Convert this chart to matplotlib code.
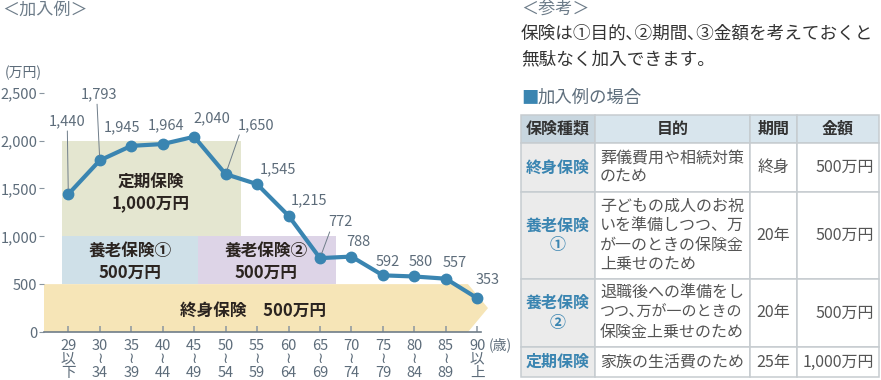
import matplotlib
matplotlib.use('Agg')
import matplotlib.pyplot as plt
from matplotlib.patches import Rectangle, Polygon

plt.rcParams['font.family'] = ['Noto Sans CJK JP', 'DejaVu Sans']

# ---- chart data ----
age_labels = ['29\n以\n下', '30\n≀\n34', '35\n≀\n39', '40\n≀\n44', '45\n≀\n49',
              '50\n≀\n54', '55\n≀\n59', '60\n≀\n64', '65\n≀\n69', '70\n≀\n74',
              '75\n≀\n79', '80\n≀\n84', '85\n≀\n89', '90\n以\n上']
amounts = [1440, 1793, 1945, 1964, 2040, 1650, 1545, 1215, 772, 788, 592, 580, 557, 353]
y_ticks = [0, 500, 1000, 1500, 2000, 2500]

# coverage (万円)
whole_life = 500
endowment = 500
term_life = 1000

# ---- table data ----
table_header = ['保険種類', '目的', '期間', '金額']
insurance_types = ['終身保険', '養老保険\n①', '養老保険\n②', '定期保険']
purposes = ['葬儀費用や相続対策\nのため',
            '子どもの成人のお祝\nいを準備しつつ、万\nが一のときの保険金\n上乗せのため',
            '退職後への準備をし\nつつ､万が一のときの\n保険金上乗せのため',
            '家族の生活費のため']
periods = ['終身', '20年', '20年', '25年']
coverages = ['500万円', '500万円', '500万円', '1,000万円']

W, H = 881, 380
GREY = '#5d6c7a'
BLUE = '#3a85b1'
DARK = '#2b2420'

fig = plt.figure(figsize=(W / 100, H / 100), dpi=100)

# chart axes placed in pixel terms
x_left, x_right = 44, 500
y_zero, y_top = 332, 60
step = 31.46          # px per age group
per_unit = 0.0957     # px per 万円
ax = fig.add_axes([x_left / W, (H - y_zero) / H, (x_right - x_left) / W, (y_zero - y_top) / H])
ax.set_xlim((x_left - 68.3) / step, (x_right - 68.3) / step)
ax.set_ylim(0, (y_zero - y_top) / per_unit)
ax.patch.set_visible(False)

# bands
xa = (44 - 68.3) / step
xb = (61.5 - 68.3) / step
xc = (198 - 68.3) / step
xd = (241 - 68.3) / step
xe = (336 - 68.3) / step
xf = (468 - 68.3) / step
xg = (488 - 68.3) / step
ax.add_patch(Polygon([(xa, 0), (xa, whole_life), (xf, whole_life), (xg, whole_life / 2), (xf, 0)],
                     closed=True, facecolor='#f6e5b7', edgecolor='none', zorder=0.5))
ax.add_patch(Rectangle((xb, whole_life), xc - xb, endowment, facecolor='#cfe0e8', edgecolor='none', zorder=0.5))
ax.add_patch(Rectangle((xc, whole_life), xe - xc, endowment, facecolor='#ddd4e7', edgecolor='none', zorder=0.5))
ax.add_patch(Rectangle((xb, whole_life + endowment), xd - xb, term_life,
                       facecolor='#e4e6d0', edgecolor='none', zorder=0.5))

band_kw = dict(ha='center', va='center', fontsize=12, fontweight='bold', color=DARK, zorder=1)
ax.text((151 - 68.3) / step, (y_zero - 192) / per_unit, '定期保険\n1,000万円', linespacing=1.25, **band_kw)
ax.text((130 - 68.3) / step, (y_zero - 262) / per_unit, '養老保険①\n500万円', linespacing=1.25, **band_kw)
ax.text((266 - 68.3) / step, (y_zero - 262) / per_unit, '養老保険②\n500万円', linespacing=1.25, **band_kw)
ax.text((253 - 68.3) / step, whole_life * 0.44, '終身保険\u3000500万円', **band_kw)

# line
xs = list(range(len(amounts)))
ax.plot(xs, amounts, color=BLUE, lw=3, marker='o', ms=7.5, zorder=3, solid_capstyle='round')

# value labels (offsets in pixels, +y up)
label_offsets = [(-1, 73), (-1, 66), (-9, 19), (3, 19), (18, 18), (30, 49), (21, 15),
                 (20, 15), (20, 36), (7, 15), (5, 13), (6, 14), (9, 16), (10, 18)]
leaders = {0: (0.5, 0), 1: (0.45, 0), 5: (0.08, 0), 8: (0.12, 0)}
for i, v in enumerate(amounts):
    kw = {}
    if i in leaders:
        kw['arrowprops'] = dict(arrowstyle='-', color='#6f7d89', lw=0.7,
                                shrinkA=0, shrinkB=3.5, relpos=leaders[i])
    ax.annotate(f'{v:,}', (i, v), xytext=label_offsets[i], textcoords='offset pixels',
                ha='center', va='center', fontsize=10.5, color=GREY, zorder=4, **kw)

# axes styling
for s in ['left', 'right', 'top']:
    ax.spines[s].set_visible(False)
ax.spines['bottom'].set_color('#6f7d89')
ax.spines['bottom'].set_linewidth(1.2)
ax.spines['bottom'].set_bounds(xa, (481 - 68.3) / step)
ax.spines['bottom'].set_zorder(2)
ax.set_yticks(y_ticks)
ax.set_yticklabels([f'{v:,}' for v in y_ticks])
ax.tick_params(axis='y', length=3.6, width=0.8, color='#8a96a0', pad=1, labelsize=10.5, labelcolor=GREY)
ax.set_xticks(xs)
ax.set_xticklabels(age_labels, linespacing=0.95)
ax.tick_params(axis='x', direction='in', length=4.3, width=1.1, color='#8a96a0', pad=5,
               labelsize=10.5, labelcolor=GREY)

# ---- overlay for titles and table (pixel coords) ----
ov = fig.add_axes([0, 0, 1, 1])
ov.set_xlim(0, W)
ov.set_ylim(H, 0)
ov.axis('off')

ov.text(2, 10, '＜加入例＞', fontsize=12.3, color='#6d7c89', ha='left', va='center')
ov.text(23, 73, '(万円)', fontsize=10, color=GREY, ha='center', va='center')
ov.text(489, 345, '(歳)', fontsize=10, color=GREY, ha='left', va='center')

ov.text(521, 10, '＜参考＞', fontsize=12.3, color='#6d7c89', ha='left', va='center')
ov.text(521, 34, '保険は①目的､②期間､③金額を考えておくと', fontsize=12.7, color='#333333', ha='left', va='center')
ov.text(521, 59, '無駄なく加入できます。', fontsize=12.7, color='#333333', ha='left', va='center')
ov.text(521, 98, '■', fontsize=12.5, color=BLUE, ha='left', va='center')
ov.text(538, 98, '加入例の場合', fontsize=12.5, color='#5e6e7c', ha='left', va='center')

col_x = [521, 595, 750, 797, 879]
row_y = [115, 143, 192, 279, 347, 377]
line_h = 19.5


def cell_text(x, yc, s, ha, size=11.5, **kw):
    lines = s.split('\n')
    n = len(lines)
    for k, line in enumerate(lines):
        fs = size if len(line) < 10 else size - 0.7
        ov.text(x, yc + (k - (n - 1) / 2) * line_h, line, ha=ha, va='center', fontsize=fs, **kw)


for r in range(5):
    for c in range(4):
        if r == 0:
            fc = '#c8d6df' if c == 0 else '#d8e5ed'
        else:
            fc = '#ebebeb' if c == 0 else 'white'
        ov.add_patch(Rectangle((col_x[c], row_y[r]), col_x[c + 1] - col_x[c], row_y[r + 1] - row_y[r],
                               facecolor=fc, edgecolor='#c6ccd0', lw=1.1))

yc = (row_y[0] + row_y[1]) / 2
for c, h in enumerate(table_header):
    cell_text((col_x[c] + col_x[c + 1]) / 2, yc, h, 'center', color='#333333', fontweight='bold')

for r in range(4):
    yc = (row_y[r + 1] + row_y[r + 2]) / 2
    cell_text((col_x[0] + col_x[1]) / 2, yc, insurance_types[r], 'center', color=BLUE, fontweight='bold')
    cell_text(col_x[1] + 5, yc, purposes[r], 'left', color='#555555')
    cell_text((col_x[2] + col_x[3]) / 2, yc, periods[r], 'center', color='#555555')
    cell_text(col_x[4] - 5, yc, coverages[r], 'right', color='#555555')

fig.savefig('out.png', dpi=100)
